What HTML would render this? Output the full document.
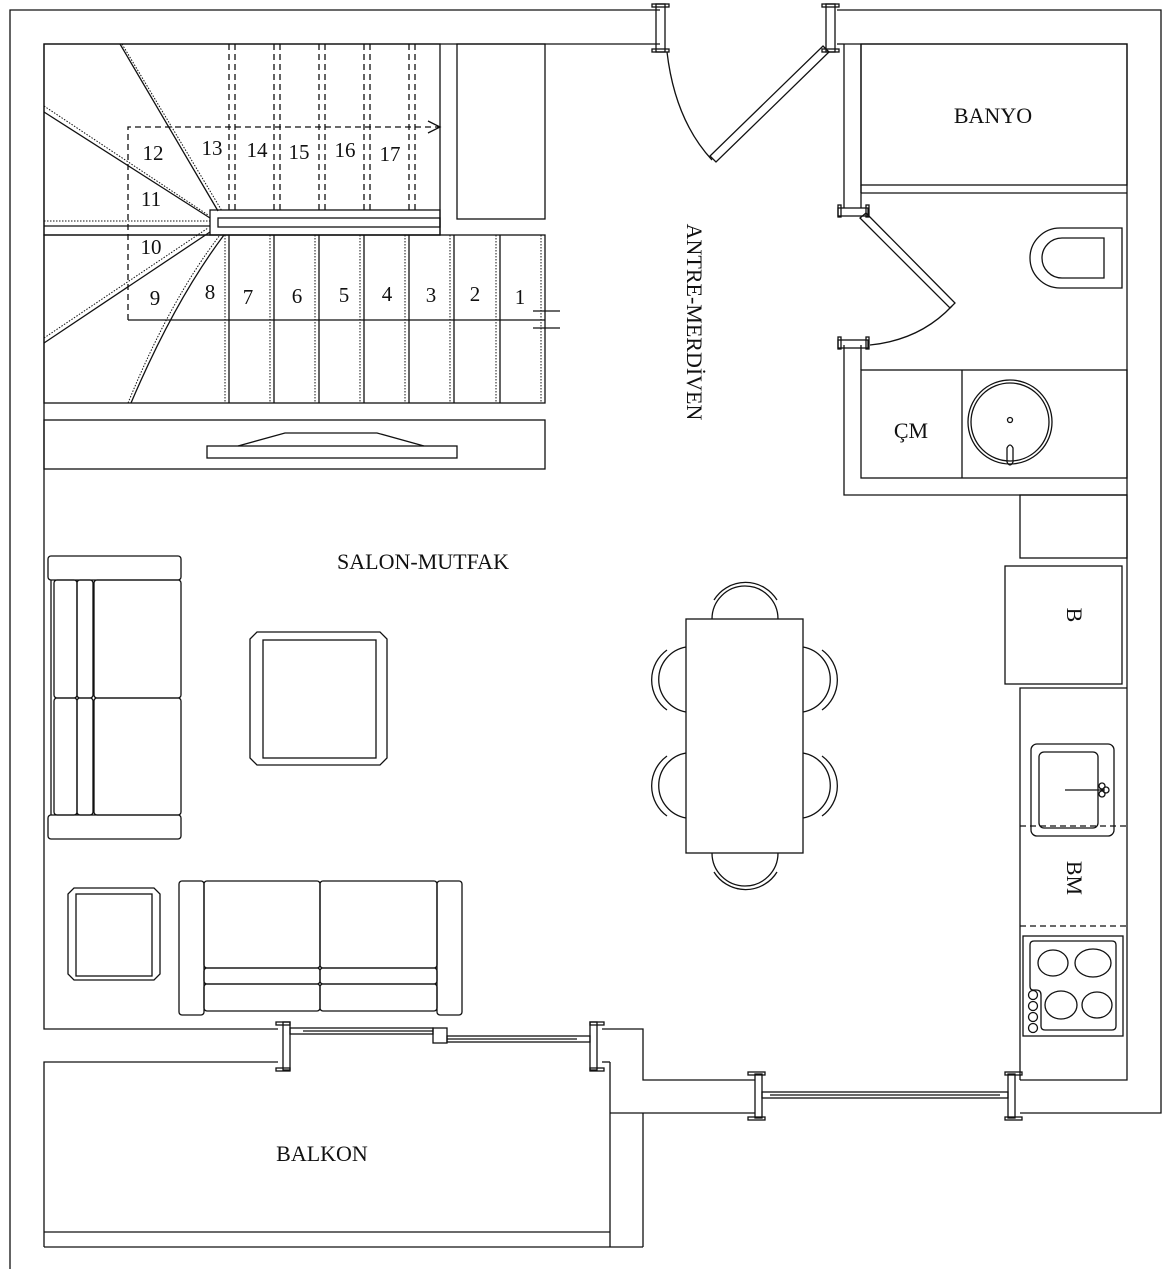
<!DOCTYPE html>
<html><head><meta charset="utf-8"><style>html,body{margin:0;padding:0;background:#fff}svg{display:block}text{font-family:"Liberation Serif",serif;fill:#111}</style></head>
<body>
<svg width="1171" height="1269" viewBox="0 0 1171 1269" xmlns="http://www.w3.org/2000/svg">
<g fill="none" stroke="#111" stroke-width="1.3">
<polyline points="660,10 10,10 10,1269"/>
<polyline points="660,44 44,44 44,1029 278,1029"/>
<polyline points="278,1062 44,1062 44,1247"/>
<polyline points="602,1029 643,1029 643,1080 755,1080"/>
<polyline points="755,1113 610,1113"/>
<line x1="610" y1="1062" x2="610" y2="1247"/>
<line x1="643" y1="1113" x2="643" y2="1247"/>
<line x1="44" y1="1247" x2="643" y2="1247"/>
<line x1="44" y1="1232" x2="610" y2="1232"/>
<line x1="602" y1="1062" x2="610" y2="1062"/>
<polyline points="1020,1080 1127,1080 1127,44 844,44"/>
<polyline points="837,10 1161,10 1161,1113 1020,1113"/>
<line x1="837" y1="44" x2="844" y2="44"/>
<polyline points="844,44 844,208"/>
<polyline points="861,44 861,208"/>
<polyline points="844,345 844,495 1127,495"/>
<line x1="861" y1="345" x2="861" y2="370"/>
<rect x="656" y="4" width="9" height="48"/><rect x="652" y="4" width="17" height="3"/><rect x="652" y="49" width="17" height="3"/>
<rect x="826" y="4" width="9" height="48"/><rect x="822" y="4" width="17" height="3"/><rect x="822" y="49" width="17" height="3"/>
<polygon points="823,46 829,52 716,162 710,156"/>
<path d="M667,52 Q675,120 712,160"/>
<rect x="838" y="208" width="30" height="8"/><rect x="838" y="205" width="3" height="12"/><rect x="866" y="205" width="3" height="12"/>
<rect x="838" y="340" width="30" height="8"/><rect x="838" y="337" width="3" height="12"/><rect x="866" y="337" width="3" height="12"/>
<polygon points="860,218 866,213 955,303 950,308"/>
<path d="M952,306 Q920,340 870,345"/>
<rect x="861" y="44" width="266" height="141"/>
<line x1="861" y1="193" x2="1127" y2="193"/>
<line x1="861" y1="185" x2="861" y2="193"/>
<path d="M1122,228 H1060 A30,30 0 0 0 1060,288 H1122 Z"/>
<path d="M1104,238 H1062 A20,20 0 0 0 1062,278 H1104 Z"/>
<rect x="861" y="370" width="266" height="108"/>
<line x1="962" y1="370" x2="962" y2="478"/>
<circle cx="1010" cy="422" r="42"/><circle cx="1010" cy="422" r="39"/>
<circle cx="1010" cy="420" r="2.5"/>
<path d="M1007,462 L1007,448 Q1010,442 1013,448 L1013,462 Q1010,468 1007,462Z"/>
<rect x="1020" y="495" width="107" height="63"/>
<rect x="1005" y="566" width="117" height="118"/>
<polyline points="1127,688 1020,688 1020,1080"/>
<rect x="1031" y="744" width="83" height="92" rx="6"/>
<rect x="1039" y="752" width="59" height="76" rx="5"/>
<line x1="1065" y1="790" x2="1105" y2="790"/>
<circle cx="1102" cy="786" r="3"/><circle cx="1102" cy="794" r="3"/><circle cx="1106" cy="790" r="3"/>
<line x1="1020" y1="826" x2="1127" y2="826" stroke-dasharray="6,4"/>
<line x1="1020" y1="926" x2="1127" y2="926" stroke-dasharray="6,4"/>
<rect x="1023" y="936" width="100" height="100"/>
<path d="M1034,941 H1112 Q1116,941 1116,945 V1026 Q1116,1030 1112,1030 H1045 Q1041,1030 1041,1026 V995 Q1041,990 1036,990 H1033 Q1030,990 1030,986 V945 Q1030,941 1034,941Z"/>
<ellipse cx="1053" cy="963" rx="15" ry="13"/><ellipse cx="1093" cy="963" rx="18" ry="14"/>
<ellipse cx="1061" cy="1005" rx="16" ry="14"/><ellipse cx="1097" cy="1005" rx="15" ry="13"/>
<circle cx="1033" cy="995" r="4.5"/><circle cx="1033" cy="1006" r="4.5"/><circle cx="1033" cy="1017" r="4.5"/><circle cx="1033" cy="1028" r="4.5"/>
<rect x="686" y="619" width="117" height="234"/>
<path d="M712,619 A33,33 0 0 1 778,619"/><path d="M714,600 A37,37 0 0 1 777,600"/>
<path d="M712,853 A33,33 0 0 0 778,853"/><path d="M714,872 A37,37 0 0 0 777,872"/>
<path d="M686,647 A33,33 0 0 0 686,712"/><path d="M667,650 A37,37 0 0 0 667,710"/>
<path d="M686,753 A33,33 0 0 0 686,818"/><path d="M667,756 A37,37 0 0 0 667,816"/>
<path d="M803,647 A33,33 0 0 1 803,712"/><path d="M822,650 A37,37 0 0 1 822,710"/>
<path d="M803,753 A33,33 0 0 1 803,818"/><path d="M822,756 A37,37 0 0 1 822,816"/>
<rect x="48" y="556" width="133" height="24" rx="3"/>
<rect x="48" y="815" width="133" height="24" rx="3"/>
<line x1="51" y1="580" x2="51" y2="815"/>
<rect x="54" y="580" width="23" height="118" rx="3"/><rect x="77" y="580" width="16" height="118" rx="3"/><rect x="94" y="580" width="87" height="118" rx="3"/>
<rect x="54" y="698" width="23" height="117" rx="3"/><rect x="77" y="698" width="16" height="117" rx="3"/><rect x="94" y="698" width="87" height="117" rx="3"/>
<polygon points="257,632 380,632 387,639 387,758 380,765 257,765 250,758 250,639"/>
<rect x="263" y="640" width="113" height="118"/>
<polygon points="74,888 154,888 160,894 160,974 154,980 74,980 68,974 68,894"/>
<rect x="76" y="894" width="76" height="82"/>
<rect x="179" y="881" width="25" height="134" rx="3"/><rect x="437" y="881" width="25" height="134" rx="3"/>
<rect x="204" y="881" width="116" height="87" rx="3"/><rect x="320" y="881" width="117" height="87" rx="3"/>
<rect x="204" y="968" width="116" height="16" rx="3"/><rect x="320" y="968" width="117" height="16" rx="3"/>
<rect x="204" y="984" width="116" height="27" rx="3"/><rect x="320" y="984" width="117" height="27" rx="3"/>
<rect x="283" y="1022" width="7" height="48"/><rect x="276" y="1022" width="14" height="3"/><rect x="276" y="1068" width="14" height="3"/>
<rect x="590" y="1022" width="7" height="48"/><rect x="590" y="1022" width="14" height="3"/><rect x="590" y="1068" width="14" height="3"/>
<rect x="290" y="1028" width="143" height="6"/><line x1="303" y1="1031" x2="433" y2="1031"/>
<rect x="433" y="1028" width="14" height="15"/>
<rect x="447" y="1036" width="143" height="6"/><line x1="447" y1="1039" x2="577" y2="1039"/>
<rect x="755" y="1074" width="7" height="44"/><rect x="748" y="1072" width="17" height="3"/><rect x="748" y="1117" width="17" height="3"/>
<rect x="1008" y="1074" width="7" height="44"/><rect x="1005" y="1072" width="17" height="3"/><rect x="1005" y="1117" width="17" height="3"/>
<rect x="762" y="1092" width="246" height="6"/><line x1="770" y1="1095" x2="1000" y2="1095"/>
<rect x="44" y="420" width="501" height="49"/>
<rect x="207" y="446" width="250" height="12"/>
<polyline points="238,446 285,433 377,433 424,446"/>
<rect x="44" y="44" width="396" height="191"/>
<rect x="44" y="235" width="501" height="168"/>
<rect x="457" y="44" width="88" height="175"/>
<rect x="210" y="210" width="230" height="25"/>
<rect x="218" y="218" width="222" height="9"/>
<g>
<line x1="229" y1="235" x2="229" y2="403"/><line x1="274" y1="235" x2="274" y2="403"/><line x1="319" y1="235" x2="319" y2="403"/><line x1="364" y1="235" x2="364" y2="403"/><line x1="409" y1="235" x2="409" y2="403"/><line x1="454" y1="235" x2="454" y2="403"/><line x1="500" y1="235" x2="500" y2="403"/>
</g>
<g stroke-dasharray="1.5,1.5" stroke-width="1">
<line x1="225" y1="235" x2="225" y2="403"/><line x1="270" y1="235" x2="270" y2="403"/><line x1="315" y1="235" x2="315" y2="403"/><line x1="360" y1="235" x2="360" y2="403"/><line x1="405" y1="235" x2="405" y2="403"/><line x1="450" y1="235" x2="450" y2="403"/><line x1="496" y1="235" x2="496" y2="403"/><line x1="541" y1="235" x2="541" y2="403"/>
<line x1="44" y1="221" x2="210" y2="221"/>
<line x1="122" y1="44" x2="222" y2="211"/>
<line x1="44" y1="106" x2="208" y2="215"/>
<line x1="44" y1="338" x2="208" y2="228"/>
<path d="M128,403 Q170,300 220,235"/>
</g>
<g stroke-dasharray="6,4">
<line x1="229" y1="44" x2="229" y2="210"/><line x1="235" y1="44" x2="235" y2="210"/>
<line x1="274" y1="44" x2="274" y2="210"/><line x1="280" y1="44" x2="280" y2="210"/>
<line x1="319" y1="44" x2="319" y2="210"/><line x1="325" y1="44" x2="325" y2="210"/>
<line x1="364" y1="44" x2="364" y2="210"/><line x1="370" y1="44" x2="370" y2="210"/>
<line x1="409" y1="44" x2="409" y2="210"/><line x1="415" y1="44" x2="415" y2="210"/>
<polyline points="128,320 128,127 440,127"/>
</g>
<polyline points="428,121 440,127 428,133"/>
<line x1="44" y1="226" x2="210" y2="226"/>
<line x1="120" y1="44" x2="218" y2="211"/>
<line x1="44" y1="112" x2="210" y2="218"/>
<line x1="44" y1="343" x2="210" y2="232"/>
<path d="M131,403 Q175,300 224,235"/>
<line x1="128" y1="320" x2="545" y2="320"/>
<line x1="533" y1="311" x2="560" y2="311"/><line x1="533" y1="328" x2="560" y2="328"/>
</g>
<g font-size="21">
<text x="153" y="160" text-anchor="middle">12</text><text x="212" y="155" text-anchor="middle">13</text><text x="257" y="157" text-anchor="middle">14</text><text x="299" y="159" text-anchor="middle">15</text><text x="345" y="157" text-anchor="middle">16</text><text x="390" y="161" text-anchor="middle">17</text>
<text x="151" y="206" text-anchor="middle">11</text><text x="151" y="254" text-anchor="middle">10</text>
<text x="155" y="305" text-anchor="middle">9</text><text x="210" y="299" text-anchor="middle">8</text><text x="248" y="304" text-anchor="middle">7</text><text x="297" y="303" text-anchor="middle">6</text><text x="344" y="302" text-anchor="middle">5</text><text x="387" y="301" text-anchor="middle">4</text><text x="431" y="302" text-anchor="middle">3</text><text x="475" y="301" text-anchor="middle">2</text><text x="520" y="304" text-anchor="middle">1</text>
</g>
<g font-size="22">
<text x="993" y="123" text-anchor="middle">BANYO</text>
<text x="911" y="438" text-anchor="middle">ÇM</text>
<text x="423" y="569" text-anchor="middle">SALON-MUTFAK</text>
<text x="322" y="1161" text-anchor="middle">BALKON</text>
<text transform="translate(687,322) rotate(90)" text-anchor="middle">ANTRE-MERDİVEN</text>
<text transform="translate(1067,615) rotate(90)" text-anchor="middle">B</text>
<text transform="translate(1067,878) rotate(90)" text-anchor="middle">BM</text>
</g>
</svg>
</body></html>
